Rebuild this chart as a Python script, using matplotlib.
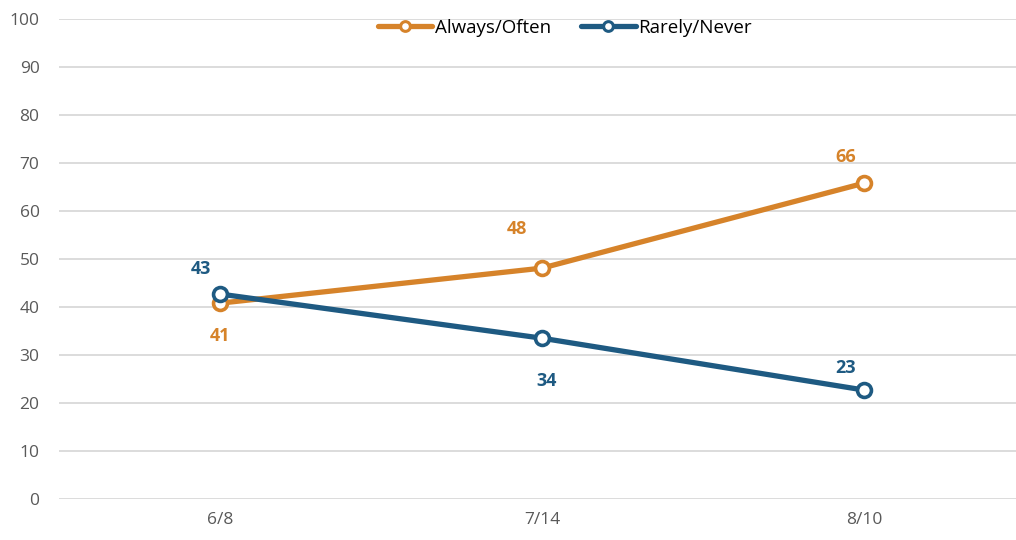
import matplotlib
matplotlib.use("Agg")
import matplotlib.pyplot as plt

# data
dates = ["6/8", "7/14", "8/10"]
always_often = [40.8, 48.1, 65.8]
rarely_never = [42.7, 33.5, 22.7]
y_ticks = list(range(0, 101, 10))

ORANGE = "#D6832A"
BLUE = "#1E5A82"
GREY = "#595959"

plt.rcParams["font.family"] = ["Open Sans", "DejaVu Sans"]

fig = plt.figure(figsize=(10.16, 5.40), dpi=100)
ax = fig.add_axes([59 / 1016, 41 / 540, 957 / 1016, 480 / 540])

x = range(len(dates))
style = dict(lw=3.8, marker="o", ms=10, mfc="white", mew=2.6, solid_capstyle="round")
ax.plot(x, always_often, color=ORANGE, label="Always/Often", **style)
ax.plot(x, rarely_never, color=BLUE, label="Rarely/Never", **style)

# label offsets in points (layout only)
off_orange = [(0, -24), (-18, 28), (-13, 19)]
off_blue = [(-14, 18), (3, -31), (-13, 16)]
for i in x:
    ax.annotate(f"{always_often[i]:.0f}", (i, always_often[i]), xytext=off_orange[i],
                textcoords="offset points", ha="center", va="center",
                color=ORANGE, fontsize=13, fontweight="bold")
    ax.annotate(f"{rarely_never[i]:.0f}", (i, rarely_never[i]), xytext=off_blue[i],
                textcoords="offset points", ha="center", va="center",
                color=BLUE, fontsize=13, fontweight="bold")

ax.set_xlim(-0.5, 2.472)
ax.set_ylim(0, 100)
ax.set_yticks(y_ticks)
ax.set_xticks(list(x))
ax.set_xticklabels(dates)
ax.yaxis.grid(True, color="#D9D9D9", lw=1.3)
ax.set_axisbelow(True)
for s in ax.spines.values():
    s.set_visible(False)
ax.tick_params(length=0, colors=GREY, labelsize=12.5)
ax.tick_params(axis="y", pad=14)
ax.tick_params(axis="x", pad=9)

leg = ax.legend(loc="center", bbox_to_anchor=(565 / 1016, 512 / 540), bbox_transform=fig.transFigure,
                ncol=2, frameon=False, fontsize=13.5, handlelength=2.9, columnspacing=1.6,
                handletextpad=0.15)
for h in leg.legend_handles:
    h.set_markersize(7)
    h.set_markeredgewidth(2.2)

fig.savefig("out.png", dpi=100)
